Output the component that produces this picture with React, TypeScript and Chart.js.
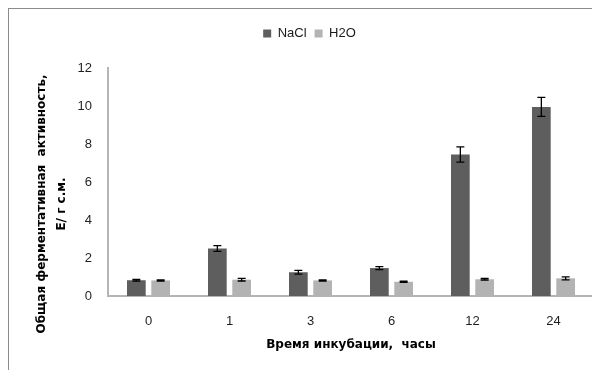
import React, { useEffect, useRef } from "react";
import { Chart, registerables } from "chart.js";

Chart.register(...registerables);

const categories = ["0", "1", "3", "6", "12", "24"];
const naclValues = [0.83, 2.5, 1.25, 1.47, 7.45, 9.95];
const naclErrors = [0.04, 0.15, 0.1, 0.08, 0.4, 0.5];
const h2oValues = [0.82, 0.86, 0.82, 0.75, 0.88, 0.93];
const h2oErrors = [0.03, 0.07, 0.03, 0.03, 0.04, 0.08];
const seriesNames = ["NaCl", "H2O"];
const yTitleLines = ["Общая ферментативная  активность,", "E/ г с.м."];
const xTitle = "Время инкубации,  часы";

const errorBarPlugin = {
  id: "errorBars",
  afterDatasetsDraw(chart: any) {
    const ctx = chart.ctx;
    const y = chart.scales.y;
    const errs = [naclErrors, h2oErrors];
    ctx.save();
    ctx.strokeStyle = "#000000";
    ctx.lineWidth = 1.3;
    chart.data.datasets.forEach((ds: any, i: number) => {
      const meta = chart.getDatasetMeta(i);
      meta.data.forEach((bar: any, j: number) => {
        const v = ds.data[j];
        const e = errs[i][j];
        const x = bar.x;
        const yTop = y.getPixelForValue(v + e);
        const yBot = y.getPixelForValue(v - e);
        ctx.beginPath();
        ctx.moveTo(x, yTop);
        ctx.lineTo(x, yBot);
        ctx.moveTo(x - 4, yTop);
        ctx.lineTo(x + 4, yTop);
        ctx.moveTo(x - 4, yBot);
        ctx.lineTo(x + 4, yBot);
        ctx.stroke();
      });
    });
    ctx.restore();
  },
};

const yTitlePlugin = {
  id: "yTitle",
  afterDraw(chart: any) {
    const ctx = chart.ctx;
    const area = chart.chartArea;
    const yc = (area.top + area.bottom) / 2 + 22;
    ctx.save();
    ctx.fillStyle = "#000000";
    ctx.font = "bold 12px 'DejaVu Sans'";
    ctx.textAlign = "center";
    ctx.textBaseline = "middle";
    const xs = [area.left - 66, area.left - 46];
    yTitleLines.forEach((line, i) => {
      ctx.save();
      ctx.translate(xs[i], yc);
      ctx.rotate(-Math.PI / 2);
      ctx.fillText(line, 0, 0);
      ctx.restore();
    });
    ctx.restore();
  },
};

const legendHeightPlugin = {
  id: "legendHeight",
  beforeInit(chart: any) {
    const legend = chart.legend;
    if (!legend) return;
    const origFit = legend.fit;
    legend.fit = function () {
      origFit.call(this);
      this.height = 49;
    };
  },
};

export default function App() {
  const ref = useRef<HTMLCanvasElement | null>(null);
  useEffect(() => {
    if (!ref.current) return;
    const chart = new Chart(ref.current, {
      type: "bar",
      data: {
        labels: categories,
        datasets: [
          {
            label: seriesNames[0],
            data: naclValues,
            backgroundColor: "#5e5e5e",
            borderWidth: 0,
            categoryPercentage: 0.6,
            barPercentage: 0.77,
          },
          {
            label: seriesNames[1],
            data: h2oValues,
            backgroundColor: "#b3b3b3",
            borderWidth: 0,
            categoryPercentage: 0.6,
            barPercentage: 0.77,
          },
        ],
      },
      options: {
        responsive: false,
        animation: false,
        devicePixelRatio: 1,
        layout: { padding: { left: 16, right: 7, top: 10, bottom: 13 } },
        plugins: {
          legend: {
            display: true,
            position: "top",
            labels: {
              boxWidth: 8,
              boxHeight: 8,
              padding: 8,
              color: "#1a1a1a",
              font: { family: "'Liberation Sans'", size: 13 },
            },
          },
          tooltip: { enabled: false },
          title: { display: false },
        },
        scales: {
          x: {
            grid: { display: false, drawTicks: false },
            border: { display: true, color: "#b5b5b5", width: 2 },
            ticks: {
              padding: 18,
              color: "#1f1f1f",
              font: { family: "'Liberation Sans'", size: 13 },
            },
            title: {
              display: true,
              text: xTitle,
              color: "#000000",
              font: { family: "'DejaVu Sans'", size: 12, weight: "bold" },
              padding: { top: 8, bottom: 5 },
            },
            afterFit(scale: any) {
              scale.height = 61;
            },
          },
          y: {
            min: 0,
            max: 12,
            grid: { display: false, drawTicks: false },
            border: { display: true, color: "#b5b5b5", width: 2 },
            ticks: {
              stepSize: 2,
              padding: 16,
              color: "#1f1f1f",
              font: { family: "'Liberation Sans'", size: 13 },
            },
            afterFit(scale: any) {
              scale.width = 83;
            },
          },
        },
      },
      plugins: [errorBarPlugin, yTitlePlugin, legendHeightPlugin],
    } as any);
    return () => chart.destroy();
  }, []);

  return (
    <div
      style={{
        width: 592,
        height: 361,
        borderLeft: "1px solid #8c8c8c",
        borderTop: "1px solid #8c8c8c",
        overflow: "hidden",
      }}
    >
      <canvas ref={ref} width={592} height={361} style={{ display: "block" }} />
    </div>
  );
}
